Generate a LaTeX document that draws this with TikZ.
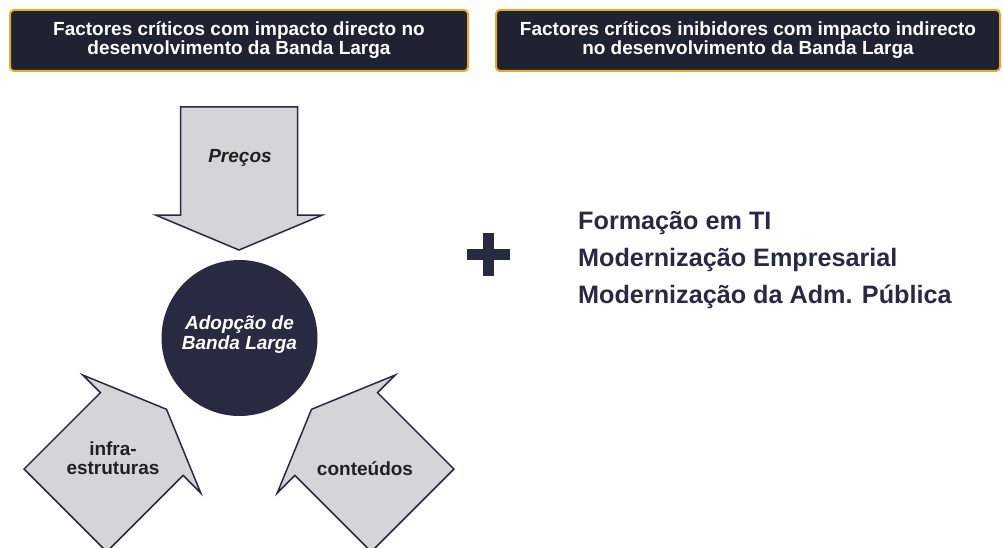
\documentclass[tikz,border=0pt]{standalone}
\usepackage{fontspec}
\setmainfont{Liberation Sans}
\usetikzlibrary{positioning}
\definecolor{hdrfill}{HTML}{1F2230}
\definecolor{hdrline}{HTML}{E9A82F}
\definecolor{navy}{HTML}{272A41}
\definecolor{arrfill}{HTML}{D4D5D6}
\definecolor{arrtext}{HTML}{231F20}
% big block arrow: tip x, tip y, direction
\newcommand{\farrow}[3]{\draw [farrow, shift={(#1,#2)}, rotate=#3] (0,0) -- (-35,83.5) -- (-35,58.5) -- (-143,58.5) -- (-143,-58.5) -- (-35,-58.5) -- (-35,-83.5) -- cycle;}

\begin{document}
\begin{tikzpicture}[x=1pt,y=-1pt,
  header/.style={draw=hdrline, line width=2pt, fill=hdrfill, rounded corners=4pt, minimum height=61pt, text=white, align=center, font=\fontsize{19}{19}\selectfont\bfseries},
  farrow/.style={draw=navy, line width=1.5pt, fill=arrfill, line join=miter},
  arrlabel/.style={text=arrtext, align=center, font=\fontsize{19}{19}\selectfont\bfseries},
  factor/.style={anchor=base west, inner sep=0pt, text=navy, font=\fontsize{25.2}{30}\selectfont\bfseries}]
\useasboundingbox (0,0) rectangle (1003,548);
\clip (0,0) rectangle (1003,548);

\node (H1) at (239,40.5) [header, minimum width=458pt] {Factores críticos com impacto directo no\\desenvolvimento da Banda Larga};
\node (H2) at (748,40.5) [header, minimum width=504pt] {Factores críticos inibidores com impacto indirecto\\no desenvolvimento da Banda Larga};

\farrow{239}{250}{-90}
\farrow{166.5}{409.3}{45}
\farrow{311.5}{409.3}{135}

\node (P) at (240,158) [arrlabel, font=\fontsize{19}{19}\selectfont\bfseries\itshape] {Preços};
\node (I) at (113,458) [arrlabel] {infra-\\estruturas};
\node (C) at (365,469) [arrlabel] {conteúdos};

\node (A) at (239.5,338) [circle, fill=navy, minimum size=156pt, text=white, align=center, text depth=11pt, font=\fontsize{19}{20}\selectfont\bfseries\itshape] {Adopção de\\Banda Larga};

% plus
\fill [navy] (467,249) rectangle (510,260);
\fill [navy] (483,233) rectangle (494,276);

\node (F1) at (578,229) [factor] {Formação em TI};
\node (F2) at (578,266) [factor] {Modernização Empresarial};
\node (F3) at (578,303) [factor] {Modernização da Adm. Pública};

\end{tikzpicture}
\end{document}
